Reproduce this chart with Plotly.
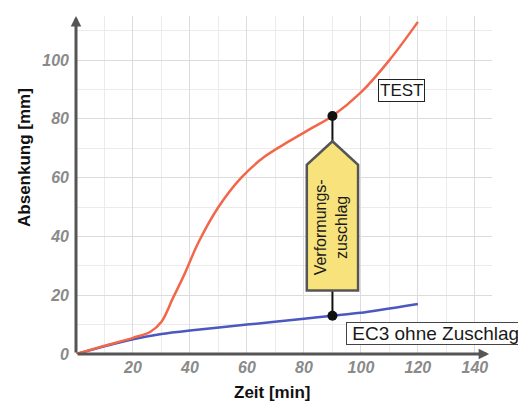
import plotly.graph_objects as go

# ---- data ----
test_x = [0, 10, 20, 26, 30, 34, 38, 43, 50, 58, 66, 75, 83, 90, 100, 110, 120]
test_y = [0, 2.8, 5.5, 7.5, 11, 19, 27, 38, 50, 60, 67, 72.5, 77, 81, 89, 100, 113]
ec3_x = [0, 10, 20, 30, 40, 60, 80, 90, 100, 120]
ec3_y = [0, 2.6, 5, 6.8, 8, 10, 12, 13, 14, 17]
mark_x = 90
mark_test = 81
mark_ec3 = 13
x_ticks = [20, 40, 60, 80, 100, 120, 140]
y_ticks = [0, 20, 40, 60, 80, 100]

FONT = "Liberation Sans, Arial, sans-serif"
AXC = "#555555"

fig = go.Figure()
fig.add_trace(go.Scatter(x=ec3_x, y=ec3_y, mode="lines",
                         line=dict(color="#4a58c0", width=2.5, shape="spline", smoothing=0.6),
                         hoverinfo="skip"))
fig.add_trace(go.Scatter(x=test_x, y=test_y, mode="lines",
                         line=dict(color="#f2674a", width=2.5, shape="spline", smoothing=1.0),
                         hoverinfo="skip"))
# connector
fig.add_trace(go.Scatter(x=[mark_x, mark_x], y=[mark_test, mark_ec3], mode="lines+markers",
                         line=dict(color="#111111", width=2),
                         marker=dict(color="#111111", size=10), hoverinfo="skip"))

# yellow arrow box (pentagon pointing up)
hw = 9
bot, sh, tip = 21.6, 64.4, 72.4
path = (f"M {mark_x-hw},{bot} L {mark_x-hw},{sh} L {mark_x},{tip} "
        f"L {mark_x+hw},{sh} L {mark_x+hw},{bot} Z")
fig.add_shape(type="path", path=path, xref="x", yref="y",
              fillcolor="#f8e27c", line=dict(color="#555555", width=2.5), layer="above")

annotations = [
    dict(x=mark_x - 0.6, y=(bot + sh) / 2, xref="x", yref="y", text="Verformungs-<br>zuschlag",
         textangle=-90, showarrow=False, font=dict(family=FONT, size=16, color="#1a1a1a")),
    dict(x=114.4, y=89.5, xref="x", yref="y", text="TEST", showarrow=False,
         font=dict(family=FONT, size=17, color="#1a1a1a"), bgcolor="white",
         bordercolor="#222222", borderwidth=1, borderpad=1),
    dict(x=126.1, y=7.1, xref="x", yref="y", text="\u00a0EC3 ohne Zuschlag\u00a0", showarrow=False,
         font=dict(family=FONT, size=19, color="#1a1a1a"), bgcolor="white",
         bordercolor="#444444", borderwidth=1, borderpad=0),
    # axis arrows
    dict(x=0, y=115, ax=0, ay=0, xref="x", yref="y", axref="x", ayref="y", text="",
         showarrow=True, arrowhead=2, arrowsize=0.7, arrowwidth=3, arrowcolor=AXC),
    dict(x=145, y=0, ax=0, ay=0, xref="x", yref="y", axref="x", ayref="y", text="",
         showarrow=True, arrowhead=2, arrowsize=0.7, arrowwidth=3, arrowcolor=AXC),
    # axis titles
    dict(x=0, y=0.58, xref="x", yref="paper", xshift=-51, text="<b>Absenkung [mm]</b>",
         textangle=-90, showarrow=False, font=dict(family=FONT, size=17, color="#111111")),
    dict(x=69, y=0, xref="x", yref="y", yshift=-38, text="<b>Zeit [min]</b>",
         showarrow=False, font=dict(family=FONT, size=17, color="#111111")),
]

tickfont = dict(family=FONT, size=16, color="#8a8a8a", style="italic", weight="bold")
fig.update_layout(
    width=518, height=395,
    margin=dict(l=68, r=34, t=8, b=49),
    paper_bgcolor="white", plot_bgcolor="white",
    showlegend=False,
    annotations=annotations,
    xaxis=dict(range=[0, 146], tickvals=x_ticks, tickfont=tickfont, showline=False,
               zeroline=False, showgrid=True, gridcolor="#dcdcdc", gridwidth=1,
               minor=dict(dtick=10, tick0=0, showgrid=True, gridcolor="#ebebeb"),
               ticks="", ticklabelstandoff=2, fixedrange=True),
    yaxis=dict(range=[0, 115], tickvals=y_ticks, tickfont=tickfont, showline=False,
               zeroline=False, showgrid=True, gridcolor="#dcdcdc", gridwidth=1,
               minor=dict(dtick=10, tick0=0, showgrid=True, gridcolor="#ebebeb"),
               ticks="", ticklabelstandoff=6, fixedrange=True),
)

fig.write_html("out.html")
